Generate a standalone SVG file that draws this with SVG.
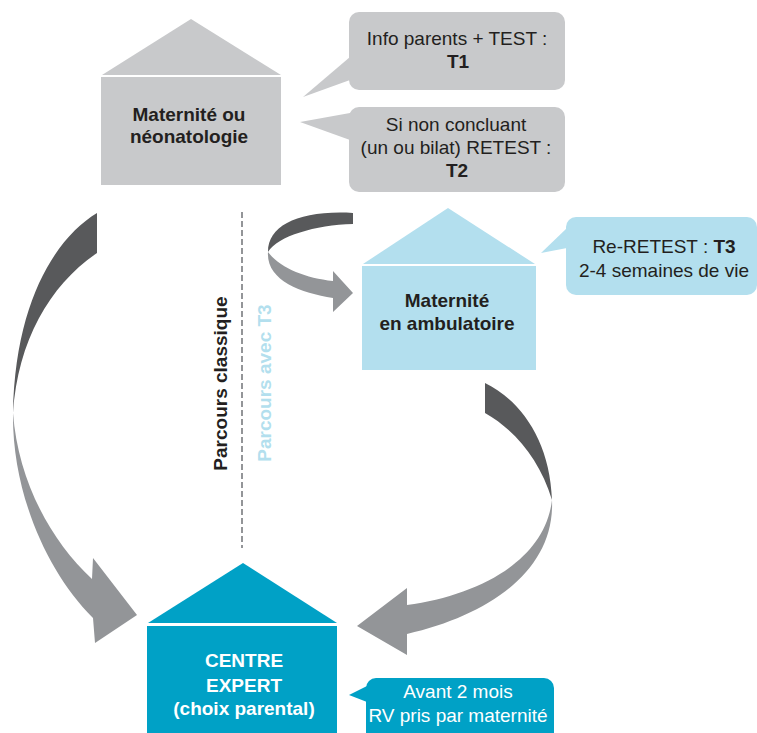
<svg xmlns="http://www.w3.org/2000/svg" width="757" height="733" viewBox="0 0 757 733">
<style>
text{font-family:"Liberation Sans",Arial,sans-serif;font-size:19px;fill:#231f20;text-anchor:middle}
.b{font-weight:bold}
.w{fill:#ffffff}
.gray{fill:#c8c9cb}
.lblue{fill:#b3dfee}
.dblue{fill:#00a1c6}
.dark{fill:#58595b}
.light{fill:#939598}
</style>
<rect width="757" height="733" fill="#ffffff"/>
<g id="connectors">
<line x1="242" y1="212" x2="242" y2="548" stroke="#939598" stroke-width="2" stroke-dasharray="6 3"/>
<g id="arrow-left">
<path class="dark" d="M97,213 C57,237 15,300 13,413 C18,340 50,285 97,253 Z"/>
<path class="light" d="M13,413 C12,490 45,570 93,618 L95,643 L137,615 L93,558 L92,579 C50,540 18,480 13,413 Z"/>
</g>
<g id="arrow-loop">
<path class="dark" d="M353,213 C300,210 268,225 268,252 C278,236 315,225 353,224 Z"/>
<path class="light" d="M268,252 C266,280 300,293 333,298 L333,312 L353,293 L333,271 L333,281 C305,278 280,268 268,252 Z"/>
</g>
<g id="arrow-right">
<path class="dark" d="M485,383 C520,400 550,440 552,500 C540,460 515,430 485,413 Z"/>
<path class="light" d="M552,500 C555,570 490,615 407,634 L407,655 L357,626 L407,588 L407,605 C480,595 545,560 552,500 Z"/>
</g>
</g>
<g id="label-classique">
<text class="b" transform="translate(227,383.5) rotate(-90)">Parcours classique</text>
</g>
<g id="label-t3">
<text class="b" style="fill:#b3dfee" transform="translate(271,383) rotate(-90)">Parcours avec T3</text>
</g>
<g id="node-maternite">
<polygon class="gray" points="102,75 191,19 281,75"/>
<rect class="gray" x="101" y="77" width="180" height="108"/>
<text class="b" x="189" y="121">Maternité ou</text>
<text class="b" x="189" y="143">néonatologie</text>
</g>
<g id="callout-t1">
<rect class="gray" x="349" y="12" width="216" height="78" rx="10"/>
<polygon class="gray" points="350,57 303,97 350,80"/>
<text x="457" y="45">Info parents + TEST :</text>
<text class="b" x="458" y="68">T1</text>
</g>
<g id="callout-t2">
<rect class="gray" x="349" y="107" width="216" height="85" rx="10"/>
<polygon class="gray" points="350,113 300,122 350,140"/>
<text x="456" y="131">Si non concluant</text>
<text x="456" y="154">(un ou bilat) RETEST :</text>
<text class="b" x="457" y="177">T2</text>
</g>
<g id="node-ambulatoire">
<polygon class="lblue" points="363,264 448,208 535,264"/>
<rect class="lblue" x="362" y="266" width="174" height="104"/>
<text class="b" x="447" y="307">Maternité</text>
<text class="b" x="447" y="330">en ambulatoire</text>
</g>
<g id="callout-t3">
<rect class="lblue" x="566" y="217" width="191" height="78" rx="10"/>
<polygon class="lblue" points="567,228 541,253 567,248"/>
<text x="664" y="253">Re-RETEST : <tspan class="b">T3</tspan></text>
<text x="664" y="277">2-4 semaines de vie</text>
</g>
<g id="node-centre">
<polygon class="dblue" points="148,623 243,563 337,623"/>
<rect class="dblue" x="147" y="626" width="190" height="110"/>
<text class="b w" x="244" y="667">CENTRE</text>
<text class="b w" x="244" y="692">EXPERT</text>
<text class="b w" x="244" y="715">(choix parental)</text>
</g>
<g id="callout-avant">
<rect class="dblue" x="366" y="678" width="188" height="66" rx="10"/>
<polygon class="dblue" points="367,686 349,695 367,702"/>
<text class="w" x="458" y="698">Avant 2 mois</text>
<text class="w" x="458" y="722">RV pris par maternité</text>
</g>
</svg>
